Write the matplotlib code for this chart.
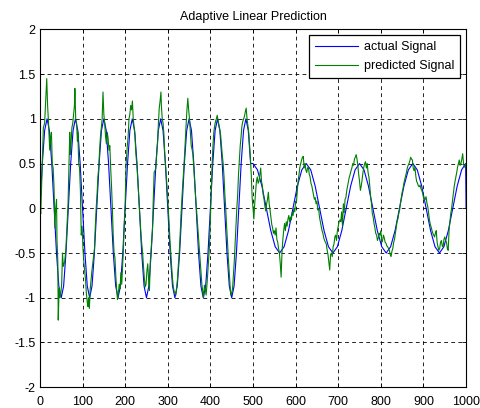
import matplotlib
matplotlib.use('Agg')
import matplotlib.pyplot as plt

# -----------------------------------data----------------------------------
# actual signal, read at key points (peaks, troughs, crossings)
actual_x = [0, 5.6, 11.1, 16.7, 22.2, 27.8, 33.3, 38.9, 44.4, 50.0, 55.6, 61.1,
            66.7, 72.2, 77.8, 83.3, 88.9, 94.4, 100.0, 105.6, 111.1, 116.7, 122.2, 127.8,
            133.3, 138.9, 144.4, 150.0, 155.6, 161.1, 166.7, 172.2, 177.8, 183.3, 188.9, 194.4,
            200.0, 205.6, 211.1, 216.7, 222.2, 227.8, 233.3, 238.9, 244.4, 250.0, 255.6, 261.1,
            266.7, 272.2, 277.8, 283.3, 288.9, 294.4, 300.0, 305.6, 311.1, 316.7, 322.2, 327.8,
            333.3, 338.9, 344.4, 350.0, 355.6, 361.1, 366.7, 372.2, 377.8, 383.3, 388.9, 394.4,
            400.0, 405.6, 411.1, 416.7, 422.2, 427.8, 433.3, 438.9, 444.4, 450.0, 455.6, 461.1,
            466.7, 472.2, 477.8, 483.3, 488.9, 494.4,
            500.0, 510.4, 520.8, 531.3, 541.7, 552.1, 562.5, 572.9, 583.3, 593.8, 604.2, 614.6,
            625.0, 635.4, 645.8, 656.3, 666.7, 677.1, 687.5, 697.9, 708.3, 718.8, 729.2, 739.6,
            750.0, 760.4, 770.8, 781.3, 791.7, 802.1, 812.5, 822.9, 833.3, 843.8, 854.2, 864.6,
            875.0, 885.4, 895.8, 906.3, 916.7, 927.1, 937.5, 947.9, 958.3, 968.8, 979.2, 989.6,
            999.0, 1000.0]
actual_y = [0, 0.5, 0.87, 1, 0.87, 0.5, 0, -0.5, -0.87, -1, -0.87, -0.5,
            0, 0.5, 0.87, 1, 0.87, 0.5, 0, -0.5, -0.87, -1, -0.87, -0.5,
            0, 0.5, 0.87, 1, 0.87, 0.5, 0, -0.5, -0.87, -1, -0.87, -0.5,
            0, 0.5, 0.87, 1, 0.87, 0.5, 0, -0.5, -0.87, -1, -0.87, -0.5,
            0, 0.5, 0.87, 1, 0.87, 0.5, 0, -0.5, -0.87, -1, -0.87, -0.5,
            0, 0.5, 0.87, 1, 0.87, 0.5, 0, -0.5, -0.87, -1, -0.87, -0.5,
            0, 0.5, 0.87, 1, 0.87, 0.5, 0, -0.5, -0.87, -1, -0.87, -0.5,
            0, 0.5, 0.87, 1, 0.87, 0.5,
            0.5, 0.43, 0.25, 0, -0.25, -0.43, -0.5, -0.43, -0.25, 0, 0.25, 0.43,
            0.5, 0.43, 0.25, 0, -0.25, -0.43, -0.5, -0.43, -0.25, 0, 0.25, 0.43,
            0.5, 0.43, 0.25, 0, -0.25, -0.43, -0.5, -0.43, -0.25, 0, 0.25, 0.43,
            0.5, 0.43, 0.25, 0, -0.25, -0.43, -0.5, -0.43, -0.25, 0, 0.25, 0.43,
            0.5, 0]

# predicted signal (noisy)
pred_x = [0, 2, 4, 6, 8, 11, 13, 16, 18, 20, 23, 25, 27, 29, 31, 33, 35, 37, 39, 40,
          42, 43, 45, 47, 49, 51, 53, 55, 58, 61, 64, 66, 68, 70, 71, 73, 75, 77, 79, 81,
          82, 84, 86, 88, 89, 91, 93, 95, 97, 99, 101,
          103, 105, 107, 109, 111, 113, 114, 116, 118, 120, 122, 124, 126, 128, 130, 132, 134, 136, 138,
          140, 142, 144, 146, 148, 150, 152, 154, 156, 158, 160, 162, 164, 166, 168, 170, 172, 174, 176,
          178, 180, 182, 184, 186, 188, 190, 192, 194, 196, 198,
          200, 202, 205, 207, 209, 211, 213, 215, 217, 219, 221, 223, 225, 228, 231, 233, 236, 238,
          241, 243, 245, 247, 249, 251, 253, 255, 257, 259, 261, 264, 266, 268, 270, 272, 274, 276,
          278, 280, 282, 284, 285, 287, 289, 291, 293, 296, 299,
          301, 303, 305, 307, 309, 311, 313, 315, 317, 319, 321, 323, 325, 327, 329, 331, 333, 335,
          337, 339, 341, 343, 345, 347, 349, 351, 353, 355, 357, 359, 362, 365, 368, 370, 373, 376,
          378, 380, 382, 384, 386, 388, 390, 392, 394, 396, 398,
          400, 402, 404, 406, 408, 410, 412, 414, 416, 418, 420, 422, 424, 426, 428, 430, 432, 434,
          436, 438, 440, 442, 444, 446, 448, 450, 452, 454, 456, 458, 460, 462, 464, 466, 468, 470,
          472, 474, 476, 478, 480, 482, 484, 486, 488, 490, 492, 494, 496, 498,
          500, 502, 504, 506, 508, 510, 512, 514, 516, 518, 520, 522, 524, 526, 528, 530, 532, 534,
          536, 538, 540, 542, 544, 546, 548, 550, 552, 554, 556, 558, 560, 562, 564, 566, 568, 570,
          572, 574, 576, 578, 580, 582, 584, 586, 588, 590, 592, 594, 596, 598,
          600, 602, 604, 606, 608, 610, 612, 614, 616, 618, 620, 622, 624, 626, 628, 630, 632, 634,
          636, 638, 640, 642, 644, 646, 648, 650, 652, 654, 656, 658, 660, 662, 664, 666, 668, 670,
          672, 674, 676, 678, 680, 682, 684, 686, 688, 690, 692, 694, 696, 698,
          700, 702, 704, 706, 708, 710, 712, 714, 716, 718, 720, 722, 724, 726, 728, 730, 732, 734,
          736, 738, 740, 742, 744, 746, 748, 750, 752, 754, 756, 758, 760, 762, 764, 766, 768, 770,
          772, 774, 776, 778, 780, 782, 784, 786, 788, 790, 792, 794, 796, 798,
          800, 802, 804, 806, 808, 810, 812, 814, 816, 818, 820, 822, 824, 826, 828, 830, 832, 834,
          836, 838, 840, 842, 844, 846, 848, 850, 852, 854, 856, 858, 860, 862, 864, 866, 868, 870,
          872, 874, 876, 878, 880, 882, 884, 886, 888, 890, 892, 894, 896, 898,
          900, 902, 904, 906, 908, 910, 912, 914, 916, 918, 920, 922, 924, 926, 928, 930, 932, 934,
          936, 938, 940, 942, 944, 946, 948, 950, 952, 954, 956, 958, 960, 962, 964, 966, 968, 970,
          972, 974, 976, 978, 980, 982, 984, 986, 988, 990, 992, 994, 996, 998, 1000]
pred_y = [0.0, -0.06, 0.25, 0.55, 0.9, 0.95, 1.15, 1.45, 1.15, 0.97, 0.65, 0.8, 0.85, 0.5, 0.45, 0.25, -0.22, 0.0, 0.1, -0.35,
          -0.6, -1.25, -0.9, -1.0, -0.95, -0.85, -0.5, -0.65, -0.6, -0.45, -0.15, 0.05, 0.45, 0.85, 0.6, 0.72, 0.9, 0.95, 1.05, 1.15,
          1.34, 1.0, 0.95, 0.75, 0.85, 0.5, 0.45, 0.2, -0.3, -0.2, -0.45,
          -0.6, -0.7, -0.8, -0.95, -1.05, -1.1, -1.0, -1.12, -0.9, -0.8, -0.7, -0.62, -0.55, -0.45, -0.2, 0.0, 0.15, 0.35, 0.45,
          0.65, 0.8, 0.9, 1.0, 1.3, 1.05, 0.95, 0.8, 0.72, 0.85, 0.78, 0.65, 0.7, 0.45, 0.25, 0.0, -0.3, -0.5, -0.55,
          -0.75, -0.9, -1.02, -0.95, -0.85, -0.9, -0.72, -0.85, -0.65, -0.45, -0.15,
          0.05, 0.48, 0.7, 0.8, 1.0, 1.05, 1.15, 1.1, 1.2, 1.0, 0.9, 0.82, 0.62, 0.45, 0.2, 0.05, -0.2, -0.35,
          -0.5, -0.65, -0.78, -0.88, -0.85, -0.7, -0.62, -0.8, -0.92, -0.6, -0.45, -0.25, 0.1, 0.4, 0.42, 0.45, 0.6, 0.72,
          0.95, 1.12, 1.2, 1.3, 1.15, 1.0, 0.95, 0.82, 0.6, 0.4, 0.18,
          0.0, -0.15, -0.35, -0.49, -0.65, -0.78, -0.88, -0.93, -0.95, -0.97, -0.88, -0.78, -0.62, -0.49, -0.3, -0.08, 0.1, 0.26,
          0.4, 0.56, 0.75, 0.93, 1.1, 1.23, 1.1, 1.0, 0.85, 0.7, 0.66, 0.6, 0.37, 0.15, -0.05, -0.19, -0.4, -0.6,
          -0.71, -0.85, -0.93, -1.0, -0.86, -0.9, -0.97, -0.85, -0.71, -0.55, -0.41,
          -0.1, 0.2, 0.48, 0.7, 0.85, 0.92, 0.97, 1.0, 1.04, 0.98, 0.93, 0.88, 0.82, 0.7, 0.59, 0.5, 0.35, 0.15,
          0.0, -0.2, -0.36, -0.55, -0.7, -0.85, -0.97, -0.95, -0.9, -0.75, -0.6, -0.4, -0.2, 0.0, 0.15, 0.38, 0.55, 0.7,
          0.8, 0.92, 0.97, 1.0, 1.03, 1.08, 1.12, 1.0, 0.92, 0.85, 0.7, 0.55, 0.37, 0.12,
          0.0, -0.12, 0.05, 0.18, 0.3, 0.35, 0.28, 0.3, 0.38, 0.45, 0.3, 0.25, 0.15, 0.1, 0.02, -0.03, 0.05, 0.1,
          0.18, 0.05, -0.02, -0.1, -0.18, -0.22, -0.28, -0.25, -0.3, -0.22, -0.35, -0.38, -0.45, -0.5, -0.62, -0.77, -0.5, -0.35,
          -0.25, -0.17, -0.25, -0.15, -0.2, -0.12, -0.08, -0.15, -0.1, -0.13, -0.05, -0.08, 0.0, -0.04,
          0.08, 0.07, 0.2, 0.31, 0.38, 0.46, 0.5, 0.54, 0.57, 0.58, 0.45, 0.5, 0.43, 0.4, 0.45, 0.46, 0.38, 0.35,
          0.28, 0.25, 0.2, 0.15, 0.1, 0.12, 0.05, 0.08, -0.02, 0.0, -0.1, -0.15, -0.2, -0.25, -0.28, -0.33, -0.36, -0.38,
          -0.4, -0.47, -0.52, -0.6, -0.69, -0.52, -0.5, -0.54, -0.43, -0.4, -0.32, -0.3, -0.36, -0.25,
          -0.2, -0.15, -0.13, -0.15, -0.04, -0.2, 0.05, -0.05, 0.1, 0.12, 0.2, 0.25, 0.3, 0.35, 0.38, 0.42, 0.45, 0.5,
          0.48, 0.55, 0.57, 0.6, 0.55, 0.48, 0.38, 0.3, 0.2, 0.25, 0.32, 0.4, 0.46, 0.5, 0.52, 0.45, 0.5, 0.4,
          0.35, 0.25, 0.13, 0.05, -0.06, -0.1, -0.17, -0.22, -0.28, -0.3, -0.36, -0.33, -0.28, -0.3,
          -0.25, -0.38, -0.36, -0.3, -0.33, -0.38, -0.39, -0.42, -0.43, -0.45, -0.47, -0.52, -0.54, -0.48, -0.45, -0.38, -0.35, -0.28,
          -0.22, -0.15, -0.12, -0.06, -0.02, 0.06, 0.12, 0.18, 0.22, 0.28, 0.32, 0.36, 0.4, 0.45, 0.48, 0.5, 0.53, 0.57,
          0.55, 0.54, 0.45, 0.42, 0.46, 0.36, 0.3, 0.28, 0.25, 0.24, 0.26, 0.22, 0.2, 0.17,
          0.12, 0.09, 0.1, 0.13, 0.06, 0.02, -0.05, -0.13, -0.18, -0.21, -0.25, -0.28, -0.3, -0.32, -0.28, -0.25, -0.38, -0.43,
          -0.47, -0.45, -0.38, -0.36, -0.42, -0.43, -0.35, -0.32, -0.36, -0.38, -0.45, -0.47, -0.25, -0.15, -0.06, 0.0, 0.08, 0.15,
          0.24, 0.3, 0.35, 0.4, 0.46, 0.5, 0.54, 0.48, 0.5, 0.55, 0.61, 0.5, 0.46, 0.48, 0.5]

y_ticks = [-2, -1.5, -1, -0.5, 0, 0.5, 1, 1.5, 2]
y_labels = ['-2', '-1.5', '-1', '-0.5', '0', '0.5', '1', '1.5', '2']
x_ticks = [0, 100, 200, 300, 400, 500, 600, 700, 800, 900, 1000]

# -----------------------------------plot----------------------------------
plt.rcParams['font.family'] = ['Liberation Sans', 'DejaVu Sans']
fig = plt.figure(figsize=(4.81, 4.08), dpi=100)
ax = fig.add_axes([0.083, 0.051, 0.886, 0.877])

ax.plot(actual_x, actual_y, color=(0, 0, 1), linewidth=0.8, label='actual Signal')
ax.plot(pred_x, pred_y, color=(0, 0.5, 0), linewidth=0.8, label='predicted Signal')

ax.set_xlim(0, 1000)
ax.set_ylim(-2, 2)
ax.set_xticks(x_ticks)
ax.set_xticklabels([str(t) for t in x_ticks])
ax.set_yticks(y_ticks)
ax.set_yticklabels(y_labels)
ax.tick_params(direction='in', top=True, right=True, labelsize=9, length=3, width=0.6)
ax.tick_params(axis='x', pad=6)
ax.tick_params(axis='y', pad=3)
ax.grid(True, color='black', linestyle=(0, (4.5, 4)), linewidth=0.6)
for s in ax.spines.values():
    s.set_linewidth(0.8)

ax.set_title('Adaptive Linear Prediction', fontsize=9, pad=7)
leg = ax.legend(loc='upper right', fontsize=9, fancybox=False, framealpha=1,
                edgecolor='black', handlelength=3.4, borderaxespad=0.45,
                labelspacing=0.55, borderpad=0.5, handletextpad=0.5)
leg.get_frame().set_linewidth(0.9)

plt.savefig('out.png', dpi=100)
